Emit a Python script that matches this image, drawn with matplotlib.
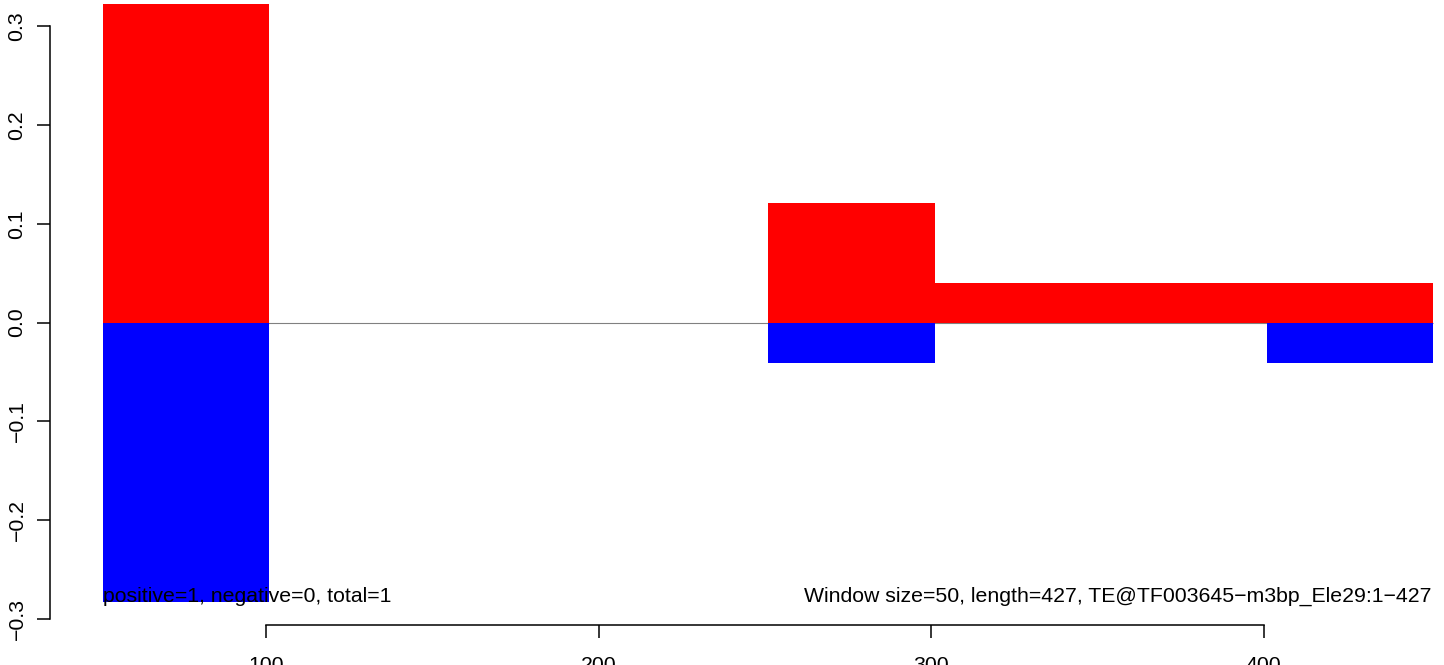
import matplotlib
matplotlib.use("Agg")
import matplotlib.pyplot as plt

plt.rcParams['font.family'] = ['Liberation Sans', 'DejaVu Sans']

# Data
window_start = [51, 101, 151, 201, 251, 301, 351, 401]
window_size = 50
positive = [0.3225, 0.0, 0.0, 0.0, 0.121, 0.040, 0.040, 0.040]
negative = [-0.2825, 0.0, 0.0, 0.0, -0.0406, 0.0, 0.0, -0.0406]
x_ticks = [100, 200, 300, 400]
x_tick_labels = ["100", "200", "300", "400"]
y_ticks = [-0.3, -0.2, -0.1, 0.0, 0.1, 0.2, 0.3]
y_tick_labels = ["\u22120.3", "\u22120.2", "\u22120.1", "0.0", "0.1", "0.2", "0.3"]
left_text = "positive=1, negative=0, total=1"
right_text = "Window size=50, length=427, TE@TF003645\u2212m3bp_Ele29:1\u2212427"

W, H = 1444, 665
fig = plt.figure(figsize=(W / 100, H / 100), dpi=100)
# axes placed in pixel terms (region extends beyond the figure like the reference)
left_px, right_px, top_px, bottom_px = 50, 1483.3, -20, 625
ax = fig.add_axes([left_px / W, (H - bottom_px) / H,
                   (right_px - left_px) / W, (bottom_px - top_px) / H])
ax.set_xlim(35.06, 466)
ax.set_ylim(-0.3061, 0.3467)

x_first = window_start[0]
x_last = window_start[-1] + window_size
ax.hlines(0, x_first, x_last, color='#808080', lw=0.8, zorder=1)
ax.bar(window_start, positive, width=window_size, align='edge',
       color='#FF0000', edgecolor='none', zorder=2)
ax.bar(window_start, negative, width=window_size, align='edge',
       color='#0000FF', edgecolor='none', zorder=2)

fs = 15.3
ax.text(x_first, min(negative), left_text, ha='left', va='baseline',
        fontsize=fs, zorder=3)
ax.text(x_last - 0.5, min(negative), right_text, ha='right',
        va='baseline', fontsize=fs, zorder=3)

for s in ['top', 'right']:
    ax.spines[s].set_visible(False)
ax.spines['left'].set_bounds(y_ticks[0], y_ticks[-1])
ax.spines['bottom'].set_bounds(x_ticks[0], x_ticks[-1])
for s in ['left', 'bottom']:
    ax.spines[s].set_linewidth(1.1)

ax.set_xticks(x_ticks)
ax.set_xticklabels(x_tick_labels)
ax.set_yticks(y_ticks)
ax.set_yticklabels(y_tick_labels, rotation=90, va='center')
ax.tick_params(axis='both', direction='out', length=9.4, width=1.1,
               labelsize=fs)
ax.tick_params(axis='x', pad=13)
ax.tick_params(axis='y', pad=7.5)

fig.savefig("out.png", dpi=100)
